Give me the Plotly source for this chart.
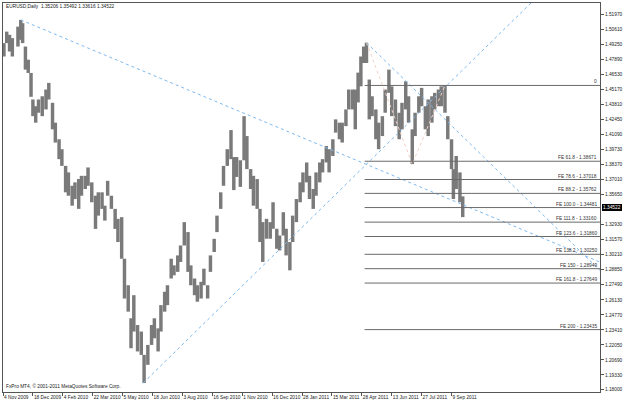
import plotly.graph_objects as go

bar_days = [1, 4, 7, 10, 16, 19, 21, 24, 27, 30, 32, 35, 38, 42, 46, 49, 53, 56, 60, 63,
            67, 70, 74, 77, 81, 84, 88, 91, 95, 99, 102, 106, 109, 112, 116, 120, 123, 127, 130, 134,
            137, 140, 144, 148, 151, 155, 159, 162, 166, 169, 173, 176, 180, 183, 187, 190, 194, 198, 201, 205,
            208, 212, 215, 219, 222, 226, 229, 233, 236, 240, 244, 247, 250, 254, 258, 261, 265, 268, 272, 275,
            278, 282, 286, 289, 293, 296, 300, 303, 307, 310, 314, 318, 321, 325, 328, 332, 335, 339, 342, 346,
            349, 353, 356, 360, 363, 367, 370, 374, 377, 380, 383, 386, 389, 392, 395, 399, 402, 406, 409, 413,
            416, 420, 424, 427, 431, 434, 438, 441, 445, 448, 452, 455, 459, 462, 466, 469, 473, 476, 480, 482,
            485, 489, 492]
bar_high = [1.4936, 1.5040, 1.5011, 1.4981, 1.5085, 1.5146, 1.5116, 1.4905, 1.4786, 1.4666,
            1.4426, 1.4365, 1.4426, 1.4455, 1.4516, 1.4576, 1.4396, 1.4216, 1.4066, 1.3976,
            1.3825, 1.3766, 1.3645, 1.3676, 1.3706, 1.3735, 1.3735, 1.3811, 1.3676, 1.3555,
            1.3586, 1.3586, 1.3465, 1.3690, 1.3555, 1.3436, 1.3346, 1.3361, 1.2985, 1.2745,
            1.2446, 1.2655, 1.2385, 1.2326, 1.2115, 1.2205, 1.2385, 1.2446, 1.2355, 1.2565,
            1.2686, 1.2745, 1.2985, 1.2925, 1.3015, 1.3105, 1.3316, 1.3226, 1.2925, 1.2806,
            1.2745, 1.2776, 1.2895, 1.2745, 1.3015, 1.3165, 1.3375, 1.3586, 1.3825, 1.3976,
            1.4149, 1.3905, 1.3905, 1.3876, 1.4275, 1.4095, 1.3796, 1.3735, 1.3706, 1.3436,
            1.3316, 1.3346, 1.3316, 1.3496, 1.3256, 1.3195, 1.3406, 1.3256, 1.3136, 1.3375,
            1.3525, 1.3676, 1.3766, 1.3856, 1.3735, 1.3616, 1.3766, 1.3856, 1.3886, 1.4005,
            1.3976, 1.4066, 1.4246, 1.4216, 1.4216, 1.4336, 1.4516, 1.4516, 1.4516, 1.4669,
            1.4815, 1.4905, 1.4940, 1.4606, 1.4455, 1.4336, 1.4216, 1.4275, 1.4516, 1.4696,
            1.4545, 1.4426, 1.4306, 1.4396, 1.4590, 1.4455, 1.4156, 1.4306, 1.4455, 1.4531,
            1.4365, 1.4426, 1.4455, 1.4486, 1.4516, 1.4545, 1.4552, 1.4275, 1.4066, 1.3796,
            1.3915, 1.3766, 1.35492]
bar_low = [1.4815, 1.4936, 1.4860, 1.4815, 1.4905, 1.4966, 1.4936, 1.4696, 1.4666, 1.4450,
           1.4275, 1.4216, 1.4306, 1.4275, 1.4336, 1.4426, 1.4156, 1.4036, 1.3886, 1.3825,
           1.3586, 1.3555, 1.3465, 1.3525, 1.3436, 1.3555, 1.3616, 1.3645, 1.3496, 1.3255,
           1.3375, 1.3436, 1.3330, 1.3555, 1.3436, 1.3255, 1.3136, 1.2985, 1.2625, 1.2506,
           1.2175, 1.2326, 1.2146, 1.2115, 1.1860, 1.2025, 1.2205, 1.2265, 1.2146, 1.2326,
           1.2506, 1.2565, 1.2806, 1.2835, 1.2866, 1.2956, 1.3105, 1.2866, 1.2745, 1.2655,
           1.2596, 1.2625, 1.2745, 1.2625, 1.2866, 1.3046, 1.3226, 1.3436, 1.3645, 1.3825,
           1.3886, 1.3606, 1.3725, 1.3635, 1.3876, 1.3796, 1.3616, 1.3465, 1.3436, 1.3136,
           1.2956, 1.3166, 1.3166, 1.3256, 1.3075, 1.3060, 1.3195, 1.3015, 1.2880, 1.3136,
           1.3316, 1.3496, 1.3586, 1.3676, 1.3525, 1.3436, 1.3555, 1.3676, 1.3766, 1.3856,
           1.3766, 1.3915, 1.4126, 1.4066, 1.4036, 1.4185, 1.4336, 1.4336, 1.4156, 1.4399,
           1.4545, 1.4756, 1.4756, 1.4246, 1.4275, 1.4066, 1.3976, 1.4095, 1.4306, 1.4486,
           1.4275, 1.4185, 1.4066, 1.4156, 1.4336, 1.4216, 1.3841, 1.4095, 1.4306, 1.4365,
           1.4156, 1.4095, 1.4216, 1.4336, 1.4365, 1.4365, 1.4306, 1.4066, 1.3796, 1.3525,
           1.3616, 1.3496, 1.33616]

# ---- axis ticks ----
x_tick_days = [0, 32, 64, 96, 128, 160, 192, 224, 256, 288, 320, 352, 384, 416, 448, 480]
x_tick_labels = ["4 Nov 2009", "18 Dec 2009", "4 Feb 2010", "22 Mar 2010", "5 May 2010",
                 "18 Jun 2010", "3 Aug 2010", "16 Sep 2010", "1 Nov 2010", "16 Dec 2010",
                 "28 Jan 2011", "15 Mar 2011", "28 Apr 2011", "13 Jun 2011", "27 Jul 2011",
                 "9 Sep 2011"]
# (1.34290 is hidden behind the last-price box in the reference)
y_tick_labels = ["1.18000", "1.19330", "1.20690", "1.22050", "1.23410", "1.24770", "1.26130",
                 "1.27490", "1.28850", "1.30210", "1.31570", "1.32930", "1.35650",
                 "1.37010", "1.38370", "1.39730", "1.41090", "1.42450", "1.43810", "1.45170",
                 "1.46530", "1.47890", "1.49250", "1.50610", "1.51970"]

# ---- Fibonacci expansion ----
fe_names = ["FE 61.8", "FE 78.6", "FE 88.2", "FE 100.0", "FE 111.8", "FE 123.6",
            "FE 138.2", "FE 150", "FE 161.8", "FE 200"]
fe_prices = [1.38671, 1.37018, 1.35762, 1.34481, 1.33160, 1.31860, 1.30250, 1.28949,
             1.27649, 1.23435]
fe_zero_price = 1.45530
fe_line_days = [387, 640]
fe_path_days = [389, 438, 473]
fe_path_prices = [1.4940, 1.3841, 1.4553]

# ---- trend lines ----
tl1_days = [19, 640]
tl1_prices = [1.5146, 1.2951]
tl2_days = [150, 565]
tl2_prices = [1.1860, 1.5299]
tl3_days = [389, 640]
tl3_prices = [1.4940, 1.2870]

title_text = "EURUSD,Daily  1.35206 1.35492 1.33616 1.34522"
copyright_text = "FxPro MT4, \u00a9 2001-2011 MetaQuotes Software Corp."
last_price = 1.34522

FONT = "Liberation Sans, Arial, sans-serif"
FS = 4.8

fig = go.Figure()

fig.add_trace(go.Bar(
    x=bar_days, y=[h - l for h, l in zip(bar_high, bar_low)], base=bar_low,
    width=3.7, marker=dict(color="#7a7a7a", line=dict(width=0)), hoverinfo="skip"))

for d, p in [(tl1_days, tl1_prices), (tl2_days, tl2_prices), (tl3_days, tl3_prices)]:
    fig.add_trace(go.Scatter(x=d, y=p, mode="lines",
                             line=dict(color="#7db9f0", width=1, dash="dot"), hoverinfo="skip"))

fig.add_trace(go.Scatter(x=fe_path_days, y=fe_path_prices, mode="lines",
                         line=dict(color="#f2cfc4", width=1, dash="dot"), hoverinfo="skip"))

all_fe = [fe_zero_price] + fe_prices
xs, ys = [], []
for p in all_fe:
    xs += [fe_line_days[0], fe_line_days[1], None]
    ys += [p, p, None]
fig.add_trace(go.Scatter(x=xs, y=ys, mode="lines",
                         line=dict(color="#6a6a6a", width=1), hoverinfo="skip"))

annotations = []
labels = ["0"] + [f"{n} - {p:.5f}" for n, p in zip(fe_names, fe_prices)]
for t, p in zip(labels, all_fe):
    annotations.append(dict(x=1, xref="paper", xanchor="right", xshift=-1,
                            y=p, yref="y", yanchor="bottom", yshift=-1,
                            text=t, showarrow=False,
                            font=dict(family=FONT, size=FS, color="#333333")))
annotations.append(dict(x=0, xref="paper", xanchor="left", xshift=1,
                        y=1, yref="paper", yanchor="top", yshift=1,
                        text=title_text, showarrow=False,
                        font=dict(family=FONT, size=FS, color="#222222")))
annotations.append(dict(x=0, xref="paper", xanchor="left", xshift=1,
                        y=0, yref="paper", yanchor="bottom", yshift=1,
                        text=copyright_text, showarrow=False,
                        font=dict(family=FONT, size=FS, color="#222222")))
annotations.append(dict(x=1, xref="paper", xanchor="left", xshift=2,
                        y=last_price, yref="y", yanchor="middle",
                        text=f"{last_price:.5f}", showarrow=False, bgcolor="#000000",
                        borderpad=1, borderwidth=0,
                        font=dict(family=FONT, size=FS, color="#ffffff")))

fig.update_layout(
    width=625, height=402,
    margin=dict(l=2, r=20, t=3, b=8),
    paper_bgcolor="white", plot_bgcolor="white",
    showlegend=False,
    annotations=annotations,
    font=dict(family=FONT, size=FS, color="#222222"),
    xaxis=dict(range=[0, 638.9], showgrid=False, zeroline=False,
               showline=True, mirror=True, linecolor="#555555", linewidth=1,
               ticks="outside", ticklen=3, tickcolor="#555555",
               tickvals=x_tick_days, ticktext=x_tick_labels, tickangle=0,
               ticklabelposition="outside right",
               tickfont=dict(family=FONT, size=FS, color="#222222")),
    yaxis=dict(range=[1.1779, 1.5299], side="right", showgrid=False, zeroline=False,
               showline=True, mirror=True, linecolor="#555555", linewidth=1,
               ticks="outside", ticklen=3, tickcolor="#555555",
               tickvals=[float(v) for v in y_tick_labels], ticktext=y_tick_labels,
               tickfont=dict(family=FONT, size=FS, color="#222222")),
)

fig.write_html("out.html", config={"displayModeBar": False})
